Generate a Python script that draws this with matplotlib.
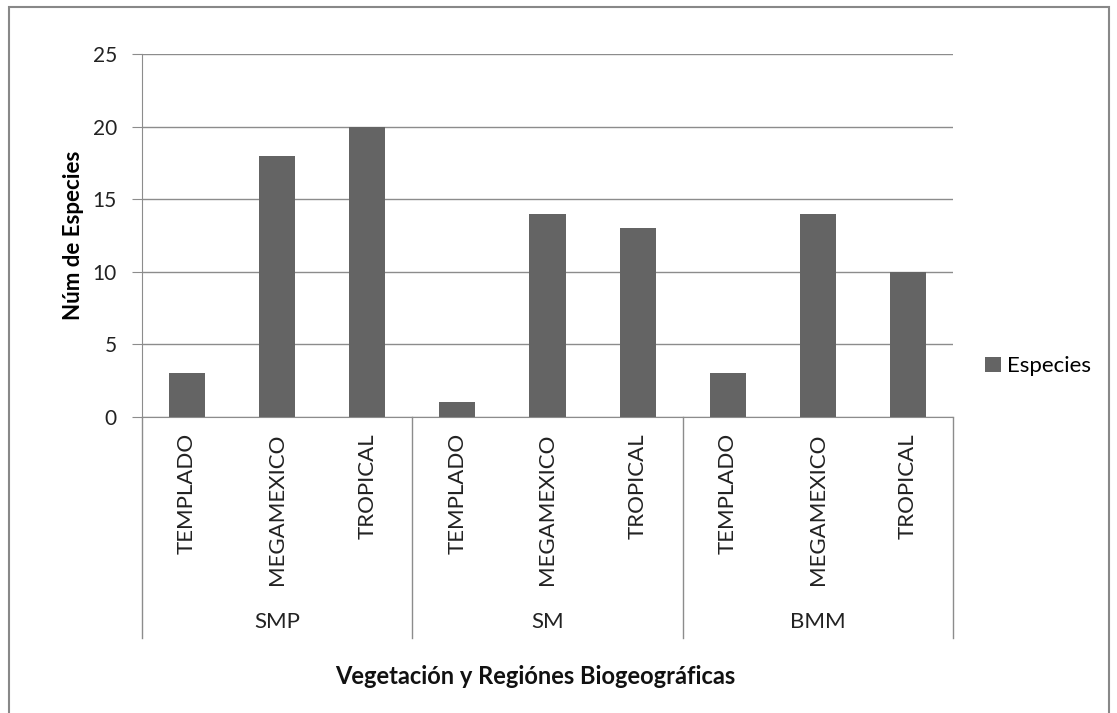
import matplotlib
matplotlib.use("Agg")
import matplotlib.pyplot as plt
from matplotlib.patches import Rectangle
import numpy as np

groups = ["SMP", "SM", "BMM"]
categories = ["TEMPLADO", "MEGAMEXICO", "TROPICAL"]
values = [3, 18, 20, 1, 14, 13, 3, 14, 10]
series_name = "Especies"

plt.rcParams['font.family'] = ['Lato', 'DejaVu Sans']

bar_color = "#646464"
line_color = "#8c8c8c"
text_color = "#222222"

fig = plt.figure(figsize=(11.17, 7.13), dpi=100)
ax = fig.add_axes([0.1271, 0.4152, 0.7261, 0.5091])

n = len(values)
x = np.arange(n)
ax.bar(x, values, width=0.4, color=bar_color, label=series_name, zorder=3)

ax.set_xlim(-0.5, n - 0.5)
ax.set_ylim(0, 25)
ax.set_yticks(range(0, 26, 5))
ax.yaxis.grid(True, color=line_color, linewidth=1)
ax.set_axisbelow(True)
for s in ["top", "right"]:
    ax.spines[s].set_visible(False)
for s in ["left", "bottom"]:
    ax.spines[s].set_color(line_color)
ax.tick_params(axis="y", direction="out", length=7, color=line_color,
               labelsize=15, labelcolor=text_color, pad=11)

# category labels (rotated) and group labels
ax.set_xticks([])
labels = [c for g in groups for c in categories]
for i, lab in enumerate(labels):
    ax.text(i, -0.045, lab, transform=ax.get_xaxis_transform(), rotation=90,
            ha="center", va="top", fontsize=16, color=text_color)
for gi, g in enumerate(groups):
    ax.text(gi * 3 + 1, -0.565, g, transform=ax.get_xaxis_transform(),
            ha="center", va="center", fontsize=16, color=text_color)
for b in range(len(groups) + 1):
    ax.plot([b * 3 - 0.5, b * 3 - 0.5], [0, -0.609], transform=ax.get_xaxis_transform(),
            color=line_color, linewidth=1, clip_on=False)

ax.set_ylabel("Núm de Especies", fontsize=16, fontweight="bold", labelpad=6)
fig.text(0.479, 1 - 676 / 713, "Vegetación y Regiónes Biogeográficas",
         ha="center", va="center", fontsize=17, fontweight="bold", color="#111111")

leg = ax.legend(loc="center left", bbox_to_anchor=(1.015, 0.14), frameon=False,
                fontsize=16, handlelength=0.7, handleheight=0.7, handletextpad=0.3)

# outer chart frame
fig.patches.append(Rectangle((9 / 1117, -0.01), 1100 / 1117, 1 - 7 / 713 + 0.01,
                             transform=fig.transFigure, fill=False,
                             edgecolor="#888888", linewidth=1.5))

fig.savefig("out.png", dpi=100)
